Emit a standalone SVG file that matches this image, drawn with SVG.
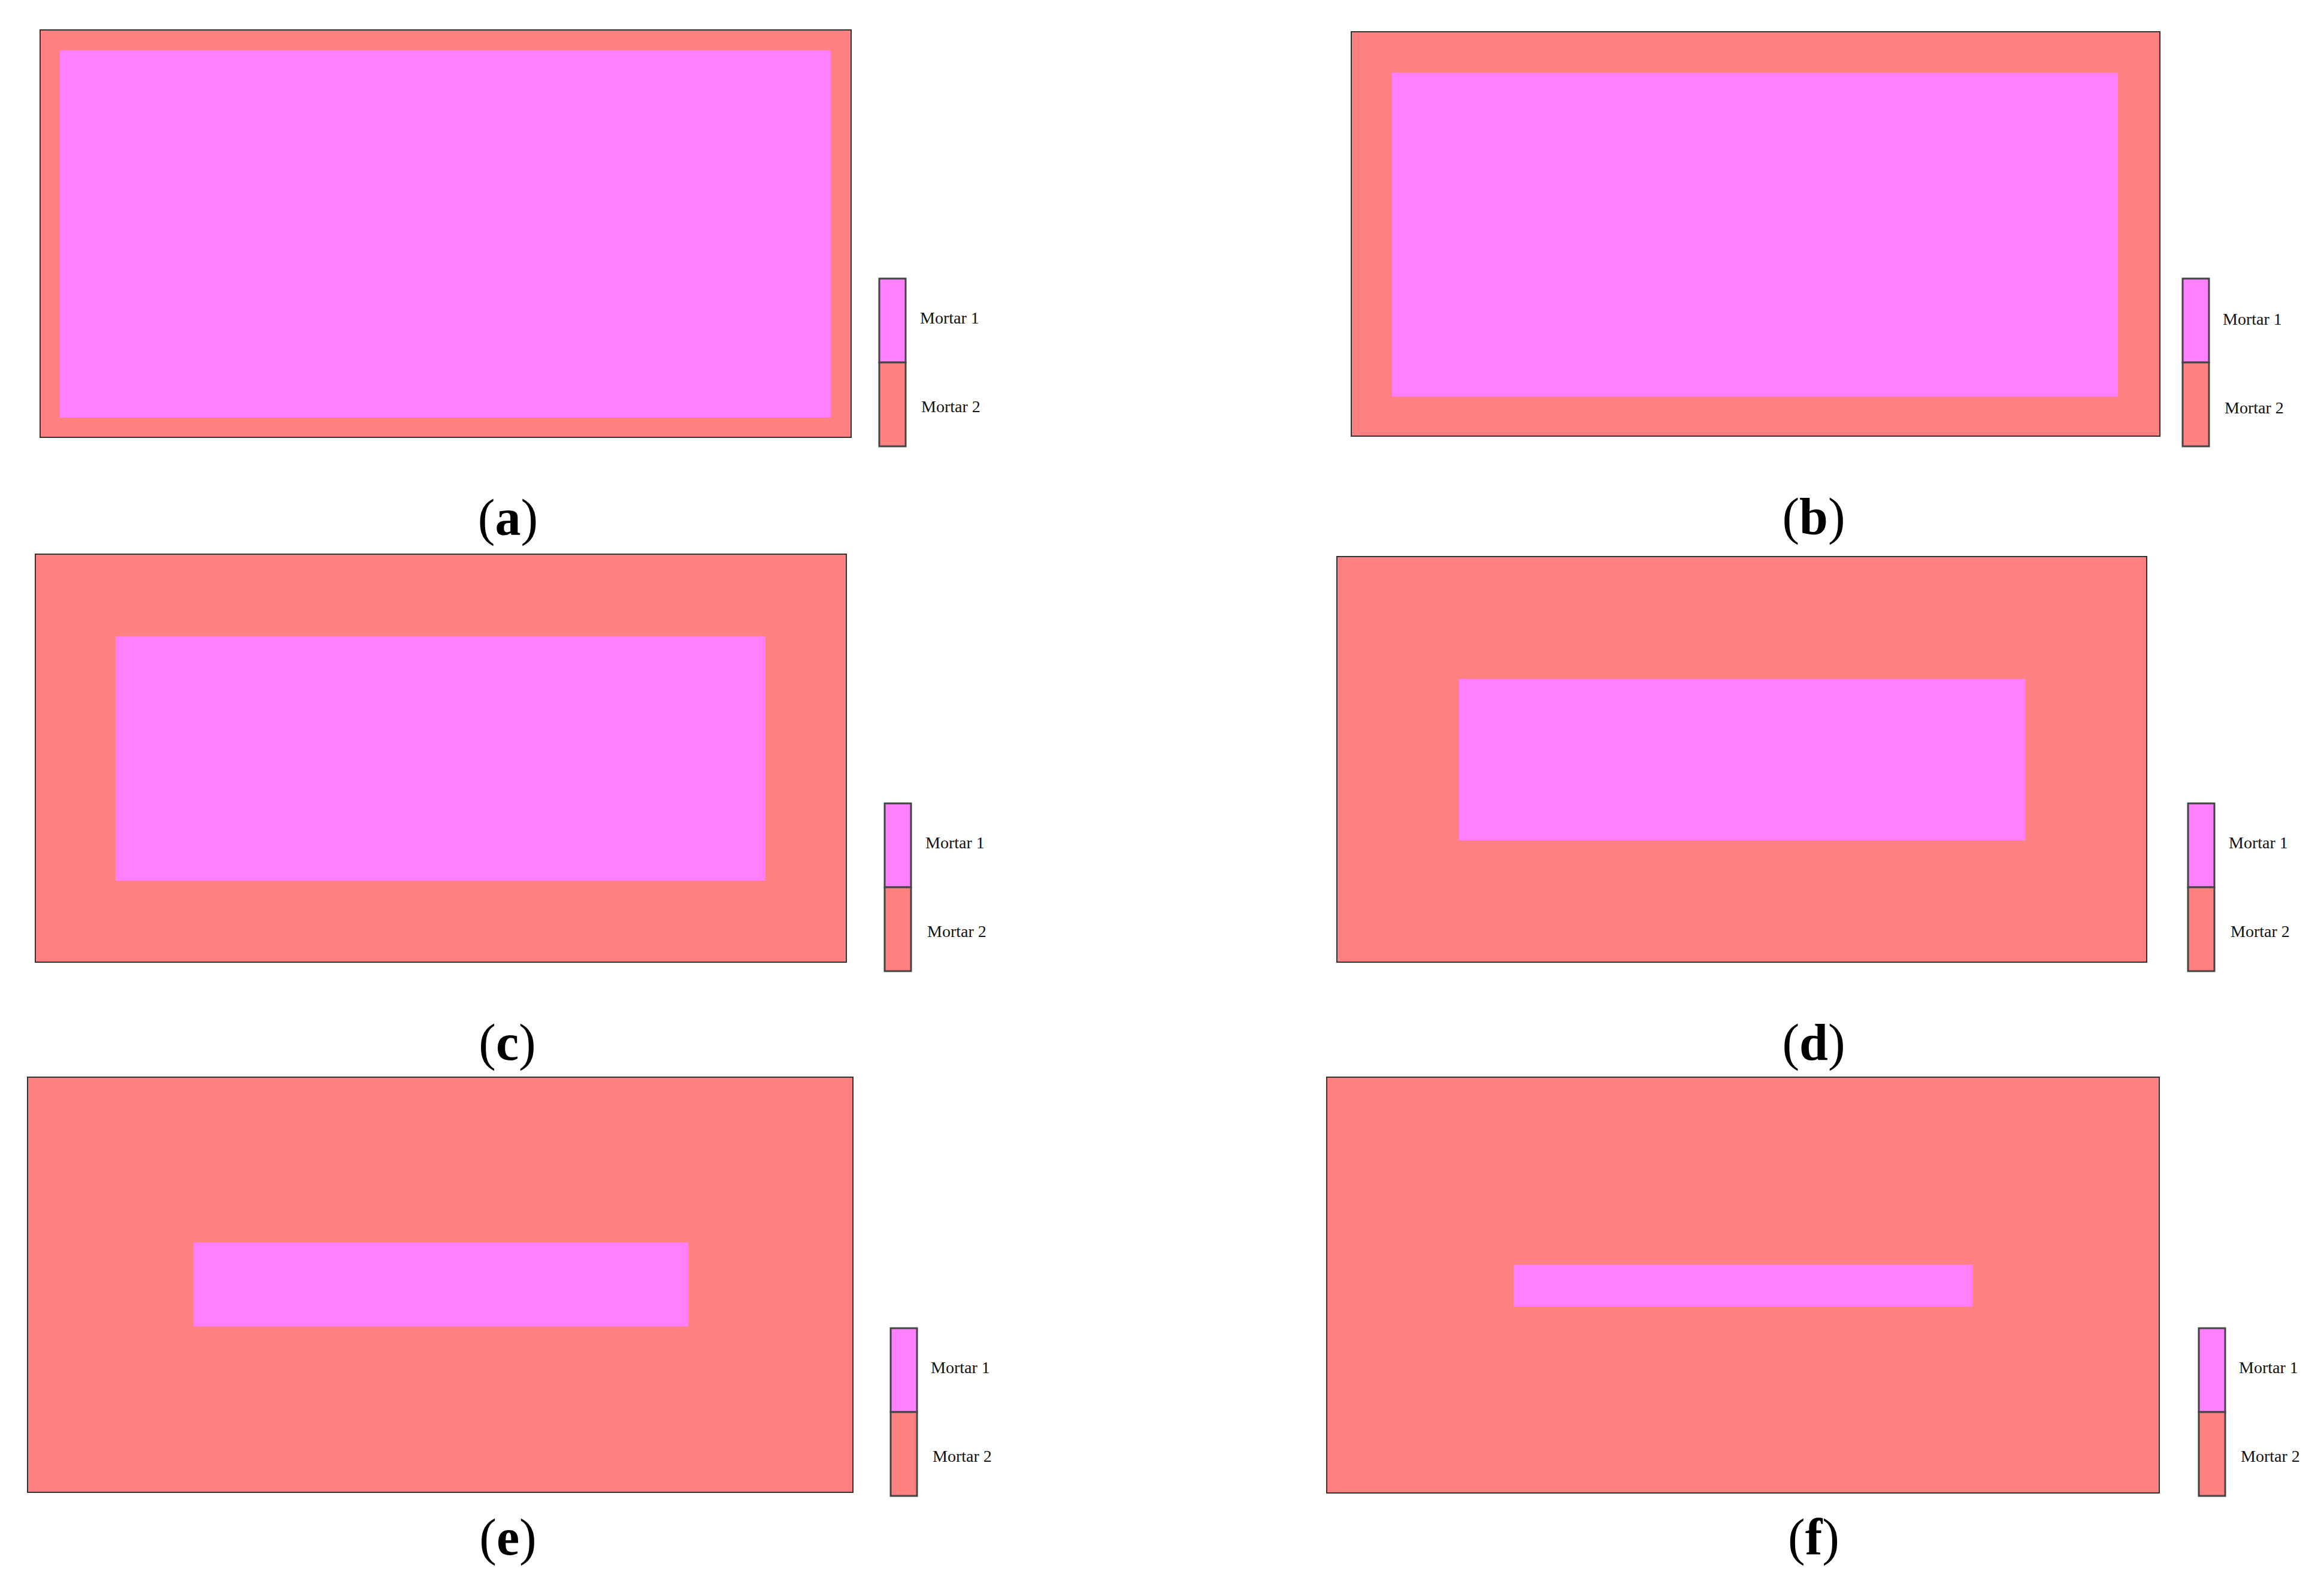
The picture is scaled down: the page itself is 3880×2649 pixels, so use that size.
<svg xmlns="http://www.w3.org/2000/svg" width="3880" height="2649" viewBox="0 0 3880 2649">
<style>
.m2{fill:#FF8080}
.m1{fill:#FF80FF}
.frame{fill:#FF8080;stroke:#333;stroke-width:2}
.leg{stroke:#444;stroke-width:3}
.lt{font-family:"Liberation Serif",serif;font-size:28px;fill:#111}
.cap{font-family:"Liberation Serif",serif;font-size:86px;font-weight:normal;fill:#000;text-anchor:middle}
.cap tspan{font-weight:bold}
</style>
<rect width="3880" height="2649" fill="#fff"/>
<defs>
<g id="legend">
<rect class="m1 leg" x="0" y="0" width="44" height="140"/>
<rect class="m2 leg" x="0" y="140" width="44" height="140"/>
</g>
</defs>

<g id="panel-a">
<rect class="frame" x="67" y="50" width="1354" height="680"/>
<rect class="m1" x="100" y="84" width="1287" height="613"/>
<use href="#legend" x="1468" y="465"/>
<text class="lt" x="1536" y="540">Mortar 1</text>
<text class="lt" x="1538" y="688">Mortar 2</text>
<text class="cap" x="848" y="893">(<tspan>a</tspan>)</text>
</g>

<g id="panel-b">
<rect class="frame" x="2256" y="53" width="1350" height="675"/>
<rect class="m1" x="2324" y="121" width="1212" height="541"/>
<use href="#legend" x="3644" y="465"/>
<text class="lt" x="3711" y="542">Mortar 1</text>
<text class="lt" x="3714" y="690">Mortar 2</text>
<text class="cap" x="3028" y="891">(<tspan>b</tspan>)</text>
</g>

<g id="panel-c">
<rect class="frame" x="59" y="925" width="1354" height="681"/>
<rect class="m1" x="193" y="1062" width="1085" height="408"/>
<use href="#legend" x="1477" y="1341"/>
<text class="lt" x="1545" y="1416">Mortar 1</text>
<text class="lt" x="1548" y="1564">Mortar 2</text>
<text class="cap" x="847" y="1769">(<tspan>c</tspan>)</text>
</g>

<g id="panel-d">
<rect class="frame" x="2232" y="929" width="1352" height="677"/>
<rect class="m1" x="2436" y="1133" width="945" height="270"/>
<use href="#legend" x="3653" y="1341"/>
<text class="lt" x="3721" y="1416">Mortar 1</text>
<text class="lt" x="3724" y="1564">Mortar 2</text>
<text class="cap" x="3028" y="1769">(<tspan>d</tspan>)</text>
</g>

<g id="panel-e">
<rect class="frame" x="46" y="1798" width="1378" height="693"/>
<rect class="m1" x="323" y="2074" width="826" height="140"/>
<use href="#legend" x="1487" y="2217"/>
<text class="lt" x="1554" y="2292">Mortar 1</text>
<text class="lt" x="1557" y="2440">Mortar 2</text>
<text class="cap" x="848" y="2595">(<tspan>e</tspan>)</text>
</g>

<g id="panel-f">
<rect class="frame" x="2215" y="1798" width="1390" height="694"/>
<rect class="m1" x="2527" y="2111" width="766" height="70"/>
<use href="#legend" x="3671" y="2217"/>
<text class="lt" x="3738" y="2292">Mortar 1</text>
<text class="lt" x="3741" y="2440">Mortar 2</text>
<text class="cap" x="3028" y="2595">(<tspan>f</tspan>)</text>
</g>

<g id="connectors"></g>
</svg>
